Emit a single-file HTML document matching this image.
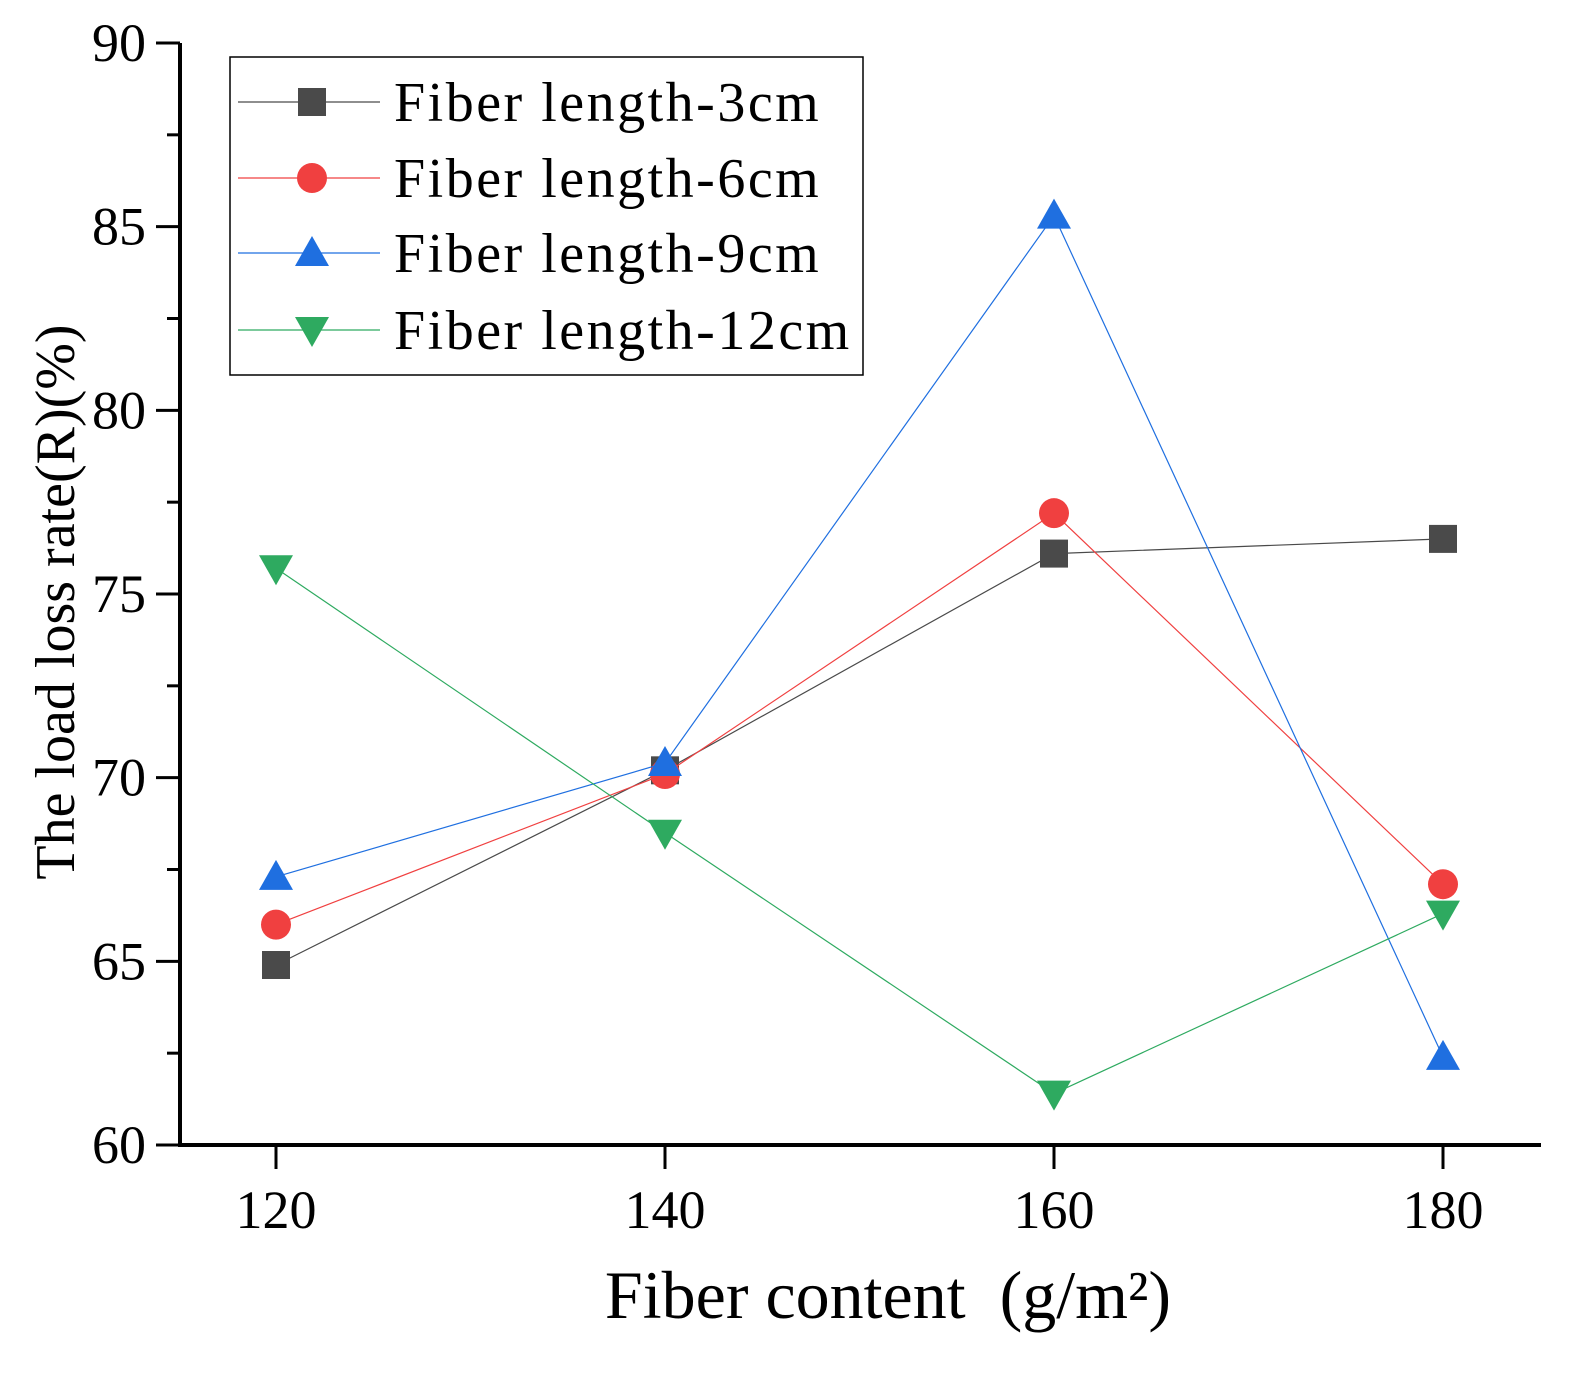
<!DOCTYPE html>
<html><head><meta charset="utf-8"><style>
html,body{margin:0;padding:0;background:#fff;}
svg text{font-family:"Liberation Serif",serif;fill:#000;}
</style></head><body>
<svg id="chart" width="1593" height="1370" viewBox="0 0 1593 1370" xmlns="http://www.w3.org/2000/svg"></svg>
<script>
const categories=[120,140,160,180];
const s3=[64.9,70.2,76.1,76.5];
const s6=[66.0,70.1,77.2,67.1];
const s9=[67.3,70.4,85.3,62.4];
const s12=[75.7,68.5,61.4,66.3];
const yTicks=[60,65,70,75,80,85,90];
const seriesNames=["Fiber length-3cm","Fiber length-6cm","Fiber length-9cm","Fiber length-12cm"];
const NS="http://www.w3.org/2000/svg";
const svg=document.getElementById('chart');
const X=v=>276+(v-120)*(1443-276)/60;
const Y=v=>1145-(v-60)*(1145-43)/30;
function mk(t,a,p){const e=document.createElementNS(NS,t);for(const k in a)e.setAttribute(k,a[k]);(p||svg).appendChild(e);return e;}
let ax=mk('line',{x1:180,y1:43,x2:180,y2:1146,stroke:'#000','stroke-width':4});


let bx=mk('line',{x1:178,y1:1145,x2:1541,y2:1145,stroke:'#000','stroke-width':4});


for(let v=60;v<=90;v+=2.5){
  const major=(v%5===0);
  mk('line',{x1:180-(major?24:13),y1:Y(v),x2:180,y2:Y(v),stroke:'#000','stroke-width':3});
}
yTicks.forEach(v=>{
  const t=mk('text',{x:146,y:Y(v)+18,'text-anchor':'end','font-size':54});
  t.textContent=v;
  
  
});
categories.forEach(v=>{
  mk('line',{x1:X(v),y1:1145,x2:X(v),y2:1169,stroke:'#000','stroke-width':3});
  const t=mk('text',{x:X(v),y:1228,'text-anchor':'middle','font-size':54});
  t.textContent=v;
  
  
});
let xt=mk('text',{x:888,y:1318,'text-anchor':'middle','font-size':68});
xt.textContent='Fiber content\u00a0\u00a0(g/m\u00b2)';


let yt=mk('text',{x:0,y:0,'text-anchor':'middle','font-size':56,transform:'translate(74,602) rotate(-90)'});
yt.textContent='The load loss rate(R)(%)';


function marker(kind,cx,cy,color,p){
  if(kind==='sq')return mk('rect',{x:cx-14,y:cy-14,width:28,height:28,fill:color},p);
  if(kind==='ci')return mk('circle',{cx:cx,cy:cy,r:15,fill:color},p);
  if(kind==='up')return mk('polygon',{points:`${cx},${cy-17} ${cx-17},${cy+13} ${cx+17},${cy+13}`,fill:color},p);
  return mk('polygon',{points:`${cx},${cy+17} ${cx-17},${cy-13} ${cx+17},${cy-13}`,fill:color},p);
}
const all=[[s3,'#4a4a4a','sq','series-3cm'],[s6,'#f04040','ci','series-6cm'],[s9,'#1f6fe0','up','series-9cm'],[s12,'#2eaa60','dn','series-12cm']];
all.forEach(([d,c,k,n])=>{
  const g=mk('g',{});
  
  
  mk('polyline',{points:d.map((v,i)=>X(categories[i])+','+Y(v)).join(' '),fill:'none',stroke:c,'stroke-width':1.2},g);
  d.forEach((v,i)=>{const m=marker(k,X(categories[i]),Y(v),c,g);
    
    });
});
const lg=mk('g',{});


mk('rect',{x:230,y:57,width:633,height:318,fill:'#fff',stroke:'#000','stroke-width':1.5},lg);
const ly=[102,178,253,330];
all.forEach(([d,c,k,n],i)=>{
  const e=mk('g',{},lg);
  
  
  mk('line',{x1:238,y1:ly[i],x2:380,y2:ly[i],stroke:c,'stroke-width':1.2},e);
  marker(k,312,ly[i],c,e);
  const t=mk('text',{x:394,y:ly[i]+19,'font-size':56,'letter-spacing':2.5},e);
  t.textContent=seriesNames[i];
});
</script>
</body></html>
